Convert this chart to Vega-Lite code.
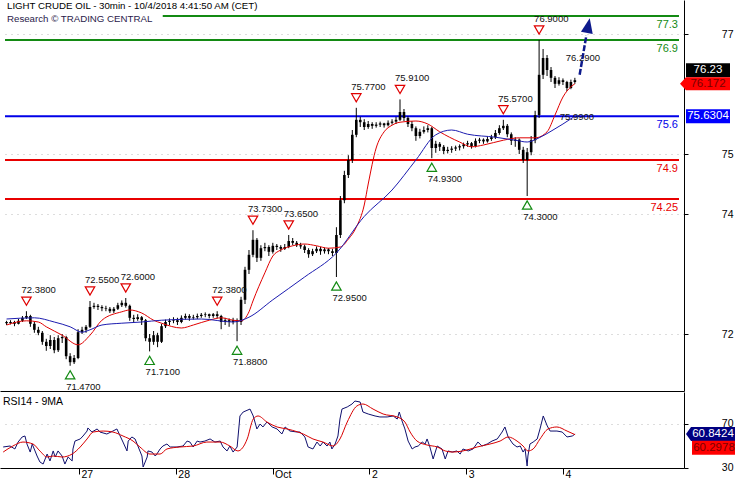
{
"$schema": "https://vega.github.io/schema/vega-lite/v6.json",
"padding": 0,
"background": "white",
"spacing": 0,
"config": {
  "view": {"stroke": null},
  "font": "Liberation Sans",
  "axis": {"labelFont": "Liberation Sans", "labelColor": "#000", "tickColor": "#000", "domainColor": "#000", "gridColor": "#bbbbbb", "gridDash": [1, 5], "labelFontSize": 10.5}
},
"datasets": {
  "levels": [
    {"kind": "resistance", "level": 77.3, "t1": 39.3, "t2": 169.2, "label": "77.3"},
    {"kind": "resistance", "level": 76.9, "t1": -0.39, "t2": 169.2, "label": "76.9"},
    {"kind": "pivot", "level": 75.6304, "t1": -0.39, "t2": 169.2, "label": "75.6"},
    {"kind": "support", "level": 74.9, "t1": -0.39, "t2": 169.2, "label": "74.9"},
    {"kind": "support", "level": 74.25, "t1": -0.39, "t2": 169.2, "label": "74.25"}
  ],
  "candles": [
    {"t":0,"o":72.2,"h":72.22,"l":72.15,"c":72.18},{"t":1,"o":72.18,"h":72.23,"l":72.16,"c":72.2},{"t":2,"o":72.2,"h":72.22,"l":72.13,"c":72.17},{"t":3,"o":72.17,"h":72.25,"l":72.16,"c":72.22},{"t":4,"o":72.22,"h":72.3,"l":72.2,"c":72.27},
    {"t":5,"o":72.27,"h":72.38,"l":72.25,"c":72.3},{"t":6,"o":72.3,"h":72.32,"l":72.12,"c":72.17},{"t":7,"o":72.17,"h":72.2,"l":72.02,"c":72.07},{"t":8,"o":72.07,"h":72.12,"l":71.98,"c":72.02},{"t":9,"o":72.02,"h":72.05,"l":71.82,"c":71.87},
    {"t":10,"o":71.87,"h":71.92,"l":71.72,"c":71.8},{"t":11,"o":71.8,"h":71.98,"l":71.75,"c":71.9},{"t":12,"o":71.9,"h":71.95,"l":71.68,"c":71.73},{"t":13,"o":71.73,"h":71.98,"l":71.7,"c":71.93},{"t":14,"o":71.93,"h":72.0,"l":71.85,"c":71.95},
    {"t":15,"o":71.95,"h":71.97,"l":71.58,"c":71.63},{"t":16,"o":71.63,"h":71.68,"l":71.47,"c":71.53},{"t":17,"o":71.53,"h":71.65,"l":71.5,"c":71.6},{"t":18,"o":71.6,"h":72.08,"l":71.58,"c":72.03},{"t":19,"o":72.03,"h":72.12,"l":72.0,"c":72.07},
    {"t":20,"o":72.07,"h":72.15,"l":72.02,"c":72.12},{"t":21,"o":72.12,"h":72.55,"l":72.1,"c":72.45},{"t":22,"o":72.45,"h":72.52,"l":72.42,"c":72.47},{"t":23,"o":72.47,"h":72.5,"l":72.4,"c":72.45},{"t":24,"o":72.45,"h":72.48,"l":72.38,"c":72.43},
    {"t":25,"o":72.43,"h":72.47,"l":72.38,"c":72.42},{"t":26,"o":72.42,"h":72.45,"l":72.35,"c":72.38},{"t":27,"o":72.38,"h":72.45,"l":72.35,"c":72.42},{"t":28,"o":72.42,"h":72.52,"l":72.4,"c":72.48},{"t":29,"o":72.48,"h":72.56,"l":72.45,"c":72.52},
    {"t":30,"o":72.52,"h":72.6,"l":72.44,"c":72.47},{"t":31,"o":72.47,"h":72.49,"l":72.22,"c":72.27},{"t":32,"o":72.27,"h":72.32,"l":72.2,"c":72.25},{"t":33,"o":72.25,"h":72.33,"l":72.22,"c":72.28},{"t":34,"o":72.28,"h":72.3,"l":72.15,"c":72.23},
    {"t":35,"o":72.23,"h":72.25,"l":71.88,"c":71.93},{"t":36,"o":71.93,"h":72.0,"l":71.71,"c":71.87},{"t":37,"o":71.87,"h":72.05,"l":71.82,"c":71.98},{"t":38,"o":71.98,"h":72.02,"l":71.78,"c":71.87},{"t":39,"o":71.87,"h":72.17,"l":71.85,"c":72.13},
    {"t":40,"o":72.13,"h":72.24,"l":72.1,"c":72.2},{"t":41,"o":72.2,"h":72.26,"l":72.15,"c":72.22},{"t":42,"o":72.22,"h":72.28,"l":72.18,"c":72.23},{"t":43,"o":72.23,"h":72.27,"l":72.15,"c":72.2},{"t":44,"o":72.2,"h":72.31,"l":72.18,"c":72.27},
    {"t":45,"o":72.27,"h":72.34,"l":72.24,"c":72.3},{"t":46,"o":72.3,"h":72.33,"l":72.22,"c":72.27},{"t":47,"o":72.27,"h":72.32,"l":72.24,"c":72.28},{"t":48,"o":72.28,"h":72.34,"l":72.25,"c":72.3},{"t":49,"o":72.3,"h":72.35,"l":72.27,"c":72.32},
    {"t":50,"o":72.32,"h":72.36,"l":72.28,"c":72.33},{"t":51,"o":72.33,"h":72.34,"l":72.26,"c":72.3},{"t":52,"o":72.3,"h":72.35,"l":72.27,"c":72.33},{"t":53,"o":72.33,"h":72.38,"l":72.26,"c":72.3},{"t":54,"o":72.3,"h":72.32,"l":72.08,"c":72.2},
    {"t":55,"o":72.2,"h":72.27,"l":72.15,"c":72.23},{"t":56,"o":72.23,"h":72.26,"l":72.12,"c":72.2},{"t":57,"o":72.2,"h":72.27,"l":72.16,"c":72.23},{"t":58,"o":72.23,"h":72.26,"l":71.88,"c":72.2},{"t":59,"o":72.2,"h":72.62,"l":72.15,"c":72.57},
    {"t":60,"o":72.57,"h":73.12,"l":72.5,"c":73.07},{"t":61,"o":73.07,"h":73.4,"l":73.0,"c":73.32},{"t":62,"o":73.32,"h":73.73,"l":73.28,"c":73.57},{"t":63,"o":73.57,"h":73.6,"l":73.2,"c":73.27},{"t":64,"o":73.27,"h":73.48,"l":73.22,"c":73.43},
    {"t":65,"o":73.43,"h":73.52,"l":73.38,"c":73.45},{"t":66,"o":73.45,"h":73.48,"l":73.3,"c":73.37},{"t":67,"o":73.37,"h":73.52,"l":73.34,"c":73.47},{"t":68,"o":73.47,"h":73.5,"l":73.4,"c":73.45},{"t":69,"o":73.45,"h":73.48,"l":73.37,"c":73.42},
    {"t":70,"o":73.42,"h":73.5,"l":73.4,"c":73.45},{"t":71,"o":73.45,"h":73.65,"l":73.43,"c":73.55},{"t":72,"o":73.55,"h":73.6,"l":73.48,"c":73.52},{"t":73,"o":73.52,"h":73.55,"l":73.45,"c":73.48},{"t":74,"o":73.48,"h":73.52,"l":73.42,"c":73.46},
    {"t":75,"o":73.46,"h":73.49,"l":73.35,"c":73.4},{"t":76,"o":73.4,"h":73.43,"l":73.27,"c":73.33},{"t":77,"o":73.33,"h":73.42,"l":73.3,"c":73.38},{"t":78,"o":73.38,"h":73.46,"l":73.35,"c":73.42},{"t":79,"o":73.42,"h":73.45,"l":73.32,"c":73.38},
    {"t":80,"o":73.38,"h":73.44,"l":73.34,"c":73.41},{"t":81,"o":73.41,"h":73.43,"l":73.33,"c":73.38},{"t":82,"o":73.38,"h":73.42,"l":73.3,"c":73.35},{"t":83,"o":73.35,"h":73.78,"l":72.95,"c":73.65},{"t":84,"o":73.65,"h":74.3,"l":73.6,"c":74.23},
    {"t":85,"o":74.23,"h":74.72,"l":74.18,"c":74.65},{"t":86,"o":74.65,"h":74.98,"l":74.6,"c":74.9},{"t":87,"o":74.9,"h":75.4,"l":74.85,"c":75.32},{"t":88,"o":75.32,"h":75.77,"l":75.28,"c":75.57},{"t":89,"o":75.57,"h":75.62,"l":75.45,"c":75.53},
    {"t":90,"o":75.53,"h":75.58,"l":75.4,"c":75.45},{"t":91,"o":75.45,"h":75.55,"l":75.42,"c":75.5},{"t":92,"o":75.5,"h":75.53,"l":75.42,"c":75.47},{"t":93,"o":75.47,"h":75.53,"l":75.44,"c":75.49},{"t":94,"o":75.49,"h":75.54,"l":75.45,"c":75.51},
    {"t":95,"o":75.51,"h":75.52,"l":75.44,"c":75.48},{"t":96,"o":75.48,"h":75.56,"l":75.46,"c":75.52},{"t":97,"o":75.52,"h":75.58,"l":75.49,"c":75.54},{"t":98,"o":75.54,"h":75.62,"l":75.5,"c":75.57},{"t":99,"o":75.57,"h":75.91,"l":75.55,"c":75.7},
    {"t":100,"o":75.7,"h":75.75,"l":75.55,"c":75.6},{"t":101,"o":75.6,"h":75.63,"l":75.45,"c":75.5},{"t":102,"o":75.5,"h":75.55,"l":75.38,"c":75.43},{"t":103,"o":75.43,"h":75.46,"l":75.22,"c":75.3},{"t":104,"o":75.3,"h":75.42,"l":75.26,"c":75.37},
    {"t":105,"o":75.37,"h":75.46,"l":75.34,"c":75.4},{"t":106,"o":75.4,"h":75.48,"l":75.36,"c":75.43},{"t":107,"o":75.43,"h":75.45,"l":74.93,"c":75.1},{"t":108,"o":75.1,"h":75.22,"l":75.02,"c":75.17},{"t":109,"o":75.17,"h":75.2,"l":75.05,"c":75.12},
    {"t":110,"o":75.12,"h":75.15,"l":75.0,"c":75.05},{"t":111,"o":75.05,"h":75.12,"l":75.01,"c":75.07},{"t":112,"o":75.07,"h":75.13,"l":75.02,"c":75.09},{"t":113,"o":75.09,"h":75.14,"l":75.05,"c":75.11},{"t":114,"o":75.11,"h":75.16,"l":75.06,"c":75.13},
    {"t":115,"o":75.13,"h":75.19,"l":75.09,"c":75.16},{"t":116,"o":75.16,"h":75.22,"l":75.12,"c":75.18},{"t":117,"o":75.18,"h":75.2,"l":75.09,"c":75.13},{"t":118,"o":75.13,"h":75.26,"l":75.11,"c":75.22},{"t":119,"o":75.22,"h":75.27,"l":75.18,"c":75.24},
    {"t":120,"o":75.24,"h":75.26,"l":75.17,"c":75.21},{"t":121,"o":75.21,"h":75.29,"l":75.19,"c":75.25},{"t":122,"o":75.25,"h":75.32,"l":75.22,"c":75.28},{"t":123,"o":75.28,"h":75.4,"l":75.25,"c":75.35},{"t":124,"o":75.35,"h":75.48,"l":75.32,"c":75.43},
    {"t":125,"o":75.43,"h":75.57,"l":75.4,"c":75.47},{"t":126,"o":75.47,"h":75.5,"l":75.28,"c":75.33},{"t":127,"o":75.33,"h":75.36,"l":75.15,"c":75.22},{"t":128,"o":75.22,"h":75.28,"l":75.12,"c":75.24},{"t":129,"o":75.24,"h":75.26,"l":75.0,"c":75.07},
    {"t":130,"o":75.07,"h":75.12,"l":74.85,"c":74.9},{"t":131,"o":74.9,"h":75.1,"l":74.3,"c":75.03},{"t":132,"o":75.03,"h":75.3,"l":74.98,"c":75.23},{"t":133,"o":75.23,"h":75.72,"l":75.18,"c":75.65},{"t":134,"o":75.65,"h":76.9,"l":75.6,"c":76.32},
    {"t":135,"o":76.32,"h":76.75,"l":76.25,"c":76.6},{"t":136,"o":76.6,"h":76.65,"l":76.3,"c":76.4},{"t":137,"o":76.4,"h":76.45,"l":76.2,"c":76.27},{"t":138,"o":76.27,"h":76.3,"l":76.1,"c":76.17},{"t":139,"o":76.17,"h":76.28,"l":76.14,"c":76.23},
    {"t":140,"o":76.23,"h":76.26,"l":76.15,"c":76.2},{"t":141,"o":76.2,"h":76.22,"l":76.05,"c":76.1},{"t":142,"o":76.1,"h":76.24,"l":76.08,"c":76.2},{"t":143,"o":76.2,"h":76.27,"l":76.17,"c":76.23}
  ],
  "ma": [
    {"s":"fast","t":0,"v":72.15},{"s":"fast","t":5,"v":72.22},{"s":"fast","t":8,"v":72.2},{"s":"fast","t":10,"v":72.12},{"s":"fast","t":14,"v":71.98},{"s":"fast","t":18,"v":71.82},{"s":"fast","t":21,"v":71.98},{"s":"fast","t":24,"v":72.23},{"s":"fast","t":29,"v":72.37},{"s":"fast","t":31,"v":72.4},{"s":"fast","t":34,"v":72.35},{"s":"fast","t":37,"v":72.23},{"s":"fast","t":39,"v":72.18},{"s":"fast","t":44,"v":72.1},{"s":"fast","t":47,"v":72.15},{"s":"fast","t":51,"v":72.23},{"s":"fast","t":54,"v":72.27},{"s":"fast","t":57,"v":72.23},{"s":"fast","t":59,"v":72.22},{"s":"fast","t":61,"v":72.37},{"s":"fast","t":62,"v":72.55},{"s":"fast","t":65,"v":73.02},{"s":"fast","t":67,"v":73.3},{"s":"fast","t":69,"v":73.4},{"s":"fast","t":72,"v":73.47},{"s":"fast","t":75,"v":73.5},{"s":"fast","t":78,"v":73.47},{"s":"fast","t":81,"v":73.43},{"s":"fast","t":84,"v":73.45},{"s":"fast","t":86,"v":73.58},{"s":"fast","t":88,"v":73.78},{"s":"fast","t":90,"v":74.15},{"s":"fast","t":91,"v":74.5},{"s":"fast","t":93,"v":75.1},{"s":"fast","t":95,"v":75.37},{"s":"fast","t":97,"v":75.48},{"s":"fast","t":99,"v":75.53},{"s":"fast","t":103,"v":75.55},{"s":"fast","t":106,"v":75.5},{"s":"fast","t":109,"v":75.37},{"s":"fast","t":114,"v":75.2},{"s":"fast","t":117,"v":75.12},{"s":"fast","t":120,"v":75.15},{"s":"fast","t":125,"v":75.23},{"s":"fast","t":129,"v":75.27},{"s":"fast","t":133,"v":75.27},{"s":"fast","t":136,"v":75.37},{"s":"fast","t":138,"v":75.65},{"s":"fast","t":140,"v":75.95},{"s":"fast","t":142,"v":76.12},{"s":"fast","t":143,"v":76.17},
    {"s":"slow","t":0,"v":72.25},{"s":"slow","t":7,"v":72.27},{"s":"slow","t":12,"v":72.2},{"s":"slow","t":16,"v":72.12},{"s":"slow","t":19,"v":72.03},{"s":"slow","t":21,"v":72.07},{"s":"slow","t":24,"v":72.15},{"s":"slow","t":29,"v":72.18},{"s":"slow","t":34,"v":72.2},{"s":"slow","t":39,"v":72.23},{"s":"slow","t":49,"v":72.25},{"s":"slow","t":57,"v":72.2},{"s":"slow","t":61,"v":72.28},{"s":"slow","t":67,"v":72.57},{"s":"slow","t":75,"v":72.95},{"s":"slow","t":83,"v":73.35},{"s":"slow","t":90,"v":73.96},{"s":"slow","t":97,"v":74.4},{"s":"slow","t":103,"v":74.9},{"s":"slow","t":108,"v":75.32},{"s":"slow","t":112,"v":75.4},{"s":"slow","t":116,"v":75.33},{"s":"slow","t":123,"v":75.28},{"s":"slow","t":128,"v":75.23},{"s":"slow","t":131,"v":75.2},{"s":"slow","t":134,"v":75.27},{"s":"slow","t":137,"v":75.38},{"s":"slow","t":140,"v":75.5},{"s":"slow","t":143,"v":75.63}
  ],
  "markers": [
    {"kind":"high","t":5,"p":72.38},{"kind":"high","t":21,"p":72.55},{"kind":"high","t":30,"p":72.6},{"kind":"high","t":53,"p":72.38},{"kind":"high","t":62,"p":73.73},{"kind":"high","t":71,"p":73.65},{"kind":"high","t":88,"p":75.77},{"kind":"high","t":99,"p":75.91},{"kind":"high","t":125,"p":75.57},{"kind":"high","t":134,"p":76.9},
    {"kind":"low","t":16,"p":71.47},{"kind":"low","t":36,"p":71.71},{"kind":"low","t":58,"p":71.88},{"kind":"low","t":83,"p":72.95},{"kind":"low","t":107,"p":74.93},{"kind":"low","t":131,"p":74.3}
  ],
  "notes": [{"t":140.7,"p":76.6,"label":"76.2900"},{"t":139.2,"p":75.61,"label":"75.9900"}],
  "arrow": [{"t":144.2,"p":76.32},{"t":145.9,"p":76.98}],
  "arrowhead": [{"t":146.3,"p":77.117}],
  "titles": [{"line":1,"text":"LIGHT CRUDE OIL - 30min - 10/4/2018 4:41:50 AM (CET)"},{"line":2,"text":"Research © TRADING CENTRAL"}],
  "boxes": [
    {"panel":"price","kind":"last","v":76.23,"label":"76.23"},
    {"panel":"price","kind":"ma","v":76.172,"label":"76.172"},
    {"panel":"price","kind":"pivot","v":75.6304,"label":"75.6304"},
    {"panel":"rsi","kind":"rsi","v":60.8424,"label":"60.8424"},
    {"panel":"rsi","kind":"ma","v":60.2978,"label":"60.2978"}
  ],
  "rsi": [
    {"t":0.4,"v":49.1},{"t":2.1,"v":50.0},{"t":3.3,"v":47.3},{"t":4.1,"v":53.6},{"t":5.1,"v":58.2},{"t":5.8,"v":59.1},{"t":6.3,"v":51.8},{"t":7.1,"v":44.5},{"t":7.6,"v":51.8},{"t":8.8,"v":40.9},{"t":9.5,"v":35.5},{"t":10.3,"v":33.6},{"t":11.3,"v":42.7},{"t":12.0,"v":36.4},{"t":12.8,"v":45.5},{"t":13.3,"v":40.0},{"t":14.0,"v":45.5},{"t":15.0,"v":40.9},{"t":15.7,"v":33.6},{"t":16.5,"v":40.0},{"t":17.5,"v":36.4},{"t":17.7,"v":47.3},{"t":18.2,"v":54.5},{"t":19.5,"v":56.4},{"t":20.2,"v":59.1},{"t":21.2,"v":63.6},{"t":21.4,"v":66.4},{"t":22.4,"v":62.7},{"t":23.7,"v":65.5},{"t":24.4,"v":62.7},{"t":26.1,"v":60.9},{"t":27.6,"v":63.6},{"t":28.6,"v":65.5},{"t":29.4,"v":59.1},{"t":30.1,"v":53.6},{"t":31.1,"v":45.5},{"t":31.4,"v":54.5},{"t":32.3,"v":58.2},{"t":33.1,"v":56.4},{"t":33.8,"v":50.0},{"t":34.8,"v":40.9},{"t":35.1,"v":30.9},{"t":36.1,"v":40.0},{"t":36.3,"v":45.5},{"t":37.3,"v":44.5},{"t":38.1,"v":40.9},{"t":38.5,"v":42.7},{"t":39.3,"v":47.3},{"t":40.0,"v":50.0},{"t":41.0,"v":51.8},{"t":41.8,"v":49.1},{"t":43.5,"v":49.1},{"t":45.0,"v":50.0},{"t":46.0,"v":54.5},{"t":46.7,"v":53.6},{"t":47.5,"v":49.1},{"t":48.5,"v":54.5},{"t":49.2,"v":53.6},{"t":50.4,"v":54.5},{"t":51.7,"v":56.4},{"t":52.9,"v":53.6},{"t":54.2,"v":54.5},{"t":54.9,"v":49.1},{"t":55.9,"v":45.5},{"t":56.6,"v":50.0},{"t":57.4,"v":44.5},{"t":58.4,"v":49.1},{"t":59.1,"v":77.3},{"t":59.9,"v":80.9},{"t":61.6,"v":83.6},{"t":62.4,"v":77.3},{"t":63.3,"v":65.5},{"t":64.1,"v":70.0},{"t":64.8,"v":67.3},{"t":65.8,"v":71.8},{"t":67.1,"v":67.3},{"t":68.3,"v":65.5},{"t":69.5,"v":60.9},{"t":70.3,"v":67.3},{"t":71.5,"v":63.6},{"t":73.3,"v":62.7},{"t":74.0,"v":62.7},{"t":75.2,"v":58.2},{"t":76.0,"v":49.1},{"t":77.2,"v":47.3},{"t":78.2,"v":53.6},{"t":79.0,"v":50.0},{"t":79.7,"v":53.6},{"t":80.7,"v":50.0},{"t":81.4,"v":53.6},{"t":81.9,"v":47.3},{"t":82.7,"v":51.8},{"t":83.4,"v":59.1},{"t":83.9,"v":74.5},{"t":84.4,"v":83.6},{"t":85.7,"v":85.5},{"t":86.9,"v":88.2},{"t":87.6,"v":90.9},{"t":88.9,"v":90.0},{"t":89.6,"v":80.9},{"t":90.9,"v":79.1},{"t":92.6,"v":77.3},{"t":93.8,"v":76.4},{"t":95.6,"v":76.4},{"t":97.1,"v":77.3},{"t":98.1,"v":74.5},{"t":98.6,"v":80.9},{"t":99.3,"v":72.7},{"t":100.0,"v":65.5},{"t":100.8,"v":54.5},{"t":101.8,"v":47.3},{"t":102.5,"v":49.1},{"t":103.3,"v":50.0},{"t":104.3,"v":53.6},{"t":105.0,"v":51.8},{"t":105.5,"v":56.4},{"t":106.2,"v":49.1},{"t":107.0,"v":38.2},{"t":108.0,"v":50.0},{"t":109.2,"v":47.3},{"t":110.0,"v":38.2},{"t":110.7,"v":45.5},{"t":111.7,"v":44.5},{"t":112.9,"v":45.5},{"t":113.7,"v":42.7},{"t":114.4,"v":47.3},{"t":115.7,"v":45.5},{"t":116.9,"v":47.3},{"t":118.1,"v":53.6},{"t":119.1,"v":50.0},{"t":120.4,"v":51.8},{"t":121.6,"v":54.5},{"t":122.9,"v":56.4},{"t":124.1,"v":62.7},{"t":124.8,"v":67.3},{"t":125.6,"v":58.2},{"t":126.8,"v":51.8},{"t":127.8,"v":49.1},{"t":128.6,"v":50.0},{"t":129.3,"v":44.5},{"t":129.8,"v":47.3},{"t":130.3,"v":31.8},{"t":130.5,"v":40.9},{"t":131.0,"v":51.8},{"t":131.8,"v":53.6},{"t":132.8,"v":56.4},{"t":133.5,"v":65.5},{"t":134.3,"v":77.3},{"t":135.3,"v":68.2},{"t":136.0,"v":63.6},{"t":137.7,"v":63.6},{"t":139.0,"v":62.7},{"t":140.2,"v":58.2},{"t":141.5,"v":59.1},{"t":142.2,"v":60.84}
  ],
  "rsima": [
    {"t":0.4,"v":44.5},{"t":2.8,"v":50.0},{"t":5.3,"v":53.6},{"t":7.8,"v":51.8},{"t":9.5,"v":45.5},{"t":11.3,"v":40.0},{"t":12.8,"v":40.9},{"t":15.0,"v":40.0},{"t":17.5,"v":42.7},{"t":19.5,"v":49.1},{"t":21.2,"v":56.4},{"t":22.7,"v":62.7},{"t":25.2,"v":63.6},{"t":27.6,"v":62.7},{"t":30.1,"v":59.1},{"t":32.6,"v":54.5},{"t":34.3,"v":49.1},{"t":36.8,"v":42.7},{"t":39.3,"v":42.7},{"t":41.0,"v":47.3},{"t":44.2,"v":49.1},{"t":47.5,"v":50.0},{"t":50.9,"v":53.6},{"t":54.2,"v":53.6},{"t":56.6,"v":50.0},{"t":58.6,"v":45.5},{"t":60.9,"v":56.4},{"t":62.4,"v":74.5},{"t":63.6,"v":77.3},{"t":65.8,"v":71.8},{"t":68.3,"v":67.3},{"t":70.8,"v":65.5},{"t":73.5,"v":62.7},{"t":74.8,"v":60.9},{"t":77.2,"v":56.4},{"t":79.7,"v":53.6},{"t":82.2,"v":50.0},{"t":83.9,"v":56.4},{"t":85.7,"v":71.8},{"t":88.1,"v":86.4},{"t":89.6,"v":88.2},{"t":92.1,"v":83.6},{"t":94.6,"v":79.1},{"t":98.1,"v":76.4},{"t":100.0,"v":71.8},{"t":101.3,"v":62.7},{"t":103.0,"v":54.5},{"t":105.5,"v":50.9},{"t":108.0,"v":49.1},{"t":110.0,"v":45.5},{"t":111.9,"v":44.5},{"t":114.4,"v":45.5},{"t":117.9,"v":49.1},{"t":121.1,"v":51.8},{"t":123.6,"v":54.5},{"t":125.6,"v":58.2},{"t":127.8,"v":54.5},{"t":129.3,"v":50.0},{"t":130.5,"v":45.5},{"t":131.8,"v":47.3},{"t":133.5,"v":56.4},{"t":135.5,"v":65.5},{"t":137.7,"v":67.3},{"t":140.2,"v":63.6},{"t":142.2,"v":60.3}
  ]
},
"vconcat": [
  {
    "width": 684,
    "height": 391,
    "layer": [
      {"data": {"name": "levels"}, "mark": {"type": "rule", "strokeWidth": 2},
       "encoding": {
         "x": {"field": "t1", "type": "quantitative", "scale": {"domain": [-0.39, 169.2], "nice": false, "zero": false},
               "axis": {"orient": "bottom", "labels": false, "ticks": false, "grid": false, "domain": true, "title": null, "minExtent": 0, "maxExtent": 0}},
         "x2": {"field": "t2"},
         "y": {"field": "level", "type": "quantitative", "scale": {"domain": [71.05, 77.567], "nice": false, "zero": false},
               "axis": {"orient": "right", "values": [72, 74, 75, 77], "format": "d", "title": null, "tickSize": 4, "labelAlign": "right", "labelPadding": 45, "grid": true, "domain": true}},
         "color": {"field": "kind", "type": "nominal", "scale": {"domain": ["resistance", "pivot", "support"], "range": ["#138a13", "#0000e8", "#e80000"]}, "legend": null}
       }},
      {"data": {"name": "candles"}, "mark": {"type": "rule", "color": "#000", "strokeWidth": 1},
       "encoding": {"x": {"field": "t", "type": "quantitative"}, "y": {"field": "l", "type": "quantitative"}, "y2": {"field": "h"}}},
      {"data": {"name": "candles"}, "mark": {"type": "bar", "color": "#000", "width": 2.6},
       "encoding": {"x": {"field": "t", "type": "quantitative"}, "y": {"field": "o", "type": "quantitative"}, "y2": {"field": "c"}}},
      {"data": {"name": "ma"}, "transform": [{"filter": "datum.s == 'fast'"}], "mark": {"type": "line", "color": "#e00000", "strokeWidth": 1, "interpolate": "monotone"},
       "encoding": {"x": {"field": "t", "type": "quantitative"}, "y": {"field": "v", "type": "quantitative"}}},
      {"data": {"name": "ma"}, "transform": [{"filter": "datum.s == 'slow'"}], "mark": {"type": "line", "color": "#1c1cb0", "strokeWidth": 1, "interpolate": "monotone"},
       "encoding": {"x": {"field": "t", "type": "quantitative"}, "y": {"field": "v", "type": "quantitative"}}},
      {"data": {"name": "levels"}, "mark": {"type": "text", "align": "right", "baseline": "middle", "dx": -1, "dy": 9, "fontSize": 11},
       "encoding": {"x": {"field": "t2", "type": "quantitative"}, "y": {"field": "level", "type": "quantitative"}, "text": {"field": "label"},
                    "color": {"field": "kind", "type": "nominal", "legend": null}}},
      {"data": {"name": "markers"}, "transform": [{"filter": "datum.kind == 'high'"}],
       "mark": {"type": "point", "shape": "triangle-down", "filled": false, "color": "#e00000", "size": 90, "strokeWidth": 1.2, "opacity": 1, "yOffset": -10},
       "encoding": {"x": {"field": "t", "type": "quantitative"}, "y": {"field": "p", "type": "quantitative"}}},
      {"data": {"name": "markers"}, "transform": [{"filter": "datum.kind == 'high'"}],
       "mark": {"type": "text", "align": "left", "baseline": "middle", "dx": -5, "yOffset": -21, "fontSize": 9.5, "color": "#111"},
       "encoding": {"x": {"field": "t", "type": "quantitative"}, "y": {"field": "p", "type": "quantitative"}, "text": {"field": "p", "type": "quantitative", "format": ".4f"}}},
      {"data": {"name": "markers"}, "transform": [{"filter": "datum.kind == 'low'"}],
       "mark": {"type": "point", "shape": "triangle-up", "filled": false, "color": "#138a13", "size": 90, "strokeWidth": 1.2, "opacity": 1, "yOffset": 9},
       "encoding": {"x": {"field": "t", "type": "quantitative"}, "y": {"field": "p", "type": "quantitative"}}},
      {"data": {"name": "markers"}, "transform": [{"filter": "datum.kind == 'low'"}],
       "mark": {"type": "text", "align": "left", "baseline": "middle", "dx": -4, "yOffset": 21, "fontSize": 9.5, "color": "#111"},
       "encoding": {"x": {"field": "t", "type": "quantitative"}, "y": {"field": "p", "type": "quantitative"}, "text": {"field": "p", "type": "quantitative", "format": ".4f"}}},
      {"data": {"name": "notes"}, "mark": {"type": "text", "align": "left", "baseline": "middle", "fontSize": 9.5, "color": "#111"},
       "encoding": {"x": {"field": "t", "type": "quantitative"}, "y": {"field": "p", "type": "quantitative"}, "text": {"field": "label"}}},
      {"data": {"name": "arrow"}, "mark": {"type": "line", "color": "#0d1a8c", "strokeWidth": 2.5, "strokeDash": [6, 2]},
       "encoding": {"x": {"field": "t", "type": "quantitative"}, "y": {"field": "p", "type": "quantitative"}}},
      {"data": {"name": "arrowhead"}, "mark": {"type": "point", "shape": "M0,-1.5L1,1L-1,1Z", "filled": true, "color": "#0d1a8c", "size": 144, "angle": 11, "opacity": 1},
       "encoding": {"x": {"field": "t", "type": "quantitative"}, "y": {"field": "p", "type": "quantitative"}}},
      {"data": {"name": "titles"}, "transform": [{"filter": "datum.line == 1"}],
       "mark": {"type": "text", "align": "left", "baseline": "middle", "dx": 2, "yOffset": 6, "fontSize": 9.7, "color": "#000"},
       "encoding": {"x": {"datum": -0.39, "type": "quantitative"}, "y": {"datum": 77.567, "type": "quantitative"}, "text": {"field": "text"}}},
      {"data": {"name": "titles"}, "transform": [{"filter": "datum.line == 2"}],
       "mark": {"type": "text", "align": "left", "baseline": "middle", "dx": 2, "yOffset": 19, "fontSize": 9.7, "color": "#2a1a4a"},
       "encoding": {"x": {"datum": -0.39, "type": "quantitative"}, "y": {"datum": 77.567, "type": "quantitative"}, "text": {"field": "text"}}},
      {"data": {"name": "boxes"}, "transform": [{"filter": "datum.panel == 'price' && datum.kind == 'last'"}],
       "mark": {"type": "point", "shape": "M1.4,-1.4H10.2V1.4H1.4Z", "filled": true, "color": "#000", "size": 100, "opacity": 1, "yOffset": -10},
       "encoding": {"x": {"datum": 169.2, "type": "quantitative"}, "y": {"field": "v", "type": "quantitative"}}},
      {"data": {"name": "boxes"}, "transform": [{"filter": "datum.panel == 'price' && datum.kind == 'last'"}],
       "mark": {"type": "text", "align": "center", "baseline": "middle", "dx": 29, "yOffset": -10, "fontSize": 11.5, "color": "#fff"},
       "encoding": {"x": {"datum": 169.2, "type": "quantitative"}, "y": {"field": "v", "type": "quantitative"}, "text": {"field": "label"}}},
      {"data": {"name": "boxes"}, "transform": [{"filter": "datum.panel == 'price' && datum.kind == 'ma'"}],
       "mark": {"type": "point", "shape": "M0.2,0L1.4,-1.3H10.2V1.3H1.4Z", "filled": true, "color": "#ff0000", "size": 100, "opacity": 1},
       "encoding": {"x": {"datum": 169.2, "type": "quantitative"}, "y": {"field": "v", "type": "quantitative"}}},
      {"data": {"name": "boxes"}, "transform": [{"filter": "datum.panel == 'price' && datum.kind == 'ma'"}],
       "mark": {"type": "text", "align": "center", "baseline": "middle", "dx": 29, "fontSize": 11.5, "color": "#7a0000"},
       "encoding": {"x": {"datum": 169.2, "type": "quantitative"}, "y": {"field": "v", "type": "quantitative"}, "text": {"field": "label"}}},
      {"data": {"name": "boxes"}, "transform": [{"filter": "datum.panel == 'price' && datum.kind == 'pivot'"}],
       "mark": {"type": "point", "shape": "M1.4,-1.4H10.2V1.4H1.4Z", "filled": true, "color": "#0000ff", "size": 100, "opacity": 1},
       "encoding": {"x": {"datum": 169.2, "type": "quantitative"}, "y": {"field": "v", "type": "quantitative"}}},
      {"data": {"name": "boxes"}, "transform": [{"filter": "datum.panel == 'price' && datum.kind == 'pivot'"}],
       "mark": {"type": "text", "align": "center", "baseline": "middle", "dx": 29, "fontSize": 11.5, "color": "#fff"},
       "encoding": {"x": {"datum": 169.2, "type": "quantitative"}, "y": {"field": "v", "type": "quantitative"}, "text": {"field": "label"}}}
    ]
  },
  {
    "width": 684,
    "height": 76,
    "layer": [
      {"data": {"name": "rsi"}, "mark": {"type": "line", "color": "#10106e", "strokeWidth": 1},
       "encoding": {
         "x": {"field": "t", "type": "quantitative", "scale": {"domain": [-0.39, 169.2], "nice": false, "zero": false},
               "axis": {"orient": "bottom", "values": [19.2, 43.2, 67.2, 91.2, 115.2, 139.2], "labelExpr": "['27','28','Oct','2','3','4'][round((datum.value-19.2)/24)]", "title": null, "tickSize": 6, "labelAlign": "left", "labelBaseline": "top", "labelPadding": -5, "labelOffset": 2, "grid": false, "domain": true, "labelFontSize": 10.5, "labelFlush": false, "labelOverlap": false}},
         "y": {"field": "v", "type": "quantitative", "scale": {"domain": [30, 99.1], "nice": false, "zero": false},
               "axis": {"orient": "right", "values": [30, 50, 70], "labelExpr": "datum.value == 50 ? '' : datum.label", "title": null, "tickSize": 4, "labelAlign": "right", "labelPadding": 45, "labelBaseline": "bottom", "labelOffset": 4, "grid": true, "domain": true}}
       }},
      {"data": {"name": "rsima"}, "mark": {"type": "line", "color": "#d80000", "strokeWidth": 1, "interpolate": "monotone"},
       "encoding": {"x": {"field": "t", "type": "quantitative"}, "y": {"field": "v", "type": "quantitative"}}},
      {"data": {"values": [{"label": "RSI14 - 9MA"}]}, "mark": {"type": "text", "align": "left", "baseline": "middle", "dx": 3, "yOffset": 10, "fontSize": 10.5, "color": "#000"},
       "encoding": {"x": {"datum": -0.39, "type": "quantitative"}, "y": {"datum": 99.1, "type": "quantitative"}, "text": {"field": "label"}}},
      {"data": {"name": "boxes"}, "transform": [{"filter": "datum.panel == 'rsi' && datum.kind == 'rsi'"}],
       "mark": {"type": "point", "shape": "M0.4,0L1.4,-1.4H10.2V1.4H1.4Z", "filled": true, "color": "#000080", "size": 100, "opacity": 1},
       "encoding": {"x": {"datum": 169.2, "type": "quantitative"}, "y": {"field": "v", "type": "quantitative"}}},
      {"data": {"name": "boxes"}, "transform": [{"filter": "datum.panel == 'rsi' && datum.kind == 'rsi'"}],
       "mark": {"type": "text", "align": "center", "baseline": "middle", "dx": 29, "fontSize": 11.5, "color": "#fff"},
       "encoding": {"x": {"datum": 169.2, "type": "quantitative"}, "y": {"field": "v", "type": "quantitative"}, "text": {"field": "label"}}},
      {"data": {"name": "boxes"}, "transform": [{"filter": "datum.panel == 'rsi' && datum.kind == 'ma'"}],
       "mark": {"type": "point", "shape": "M1.6,-1.4H10.2V1.4H1.6Z", "filled": true, "color": "#ff0000", "size": 100, "opacity": 1, "yOffset": 13},
       "encoding": {"x": {"datum": 169.2, "type": "quantitative"}, "y": {"field": "v", "type": "quantitative"}}},
      {"data": {"name": "boxes"}, "transform": [{"filter": "datum.panel == 'rsi' && datum.kind == 'ma'"}],
       "mark": {"type": "text", "align": "center", "baseline": "middle", "dx": 30, "yOffset": 13, "fontSize": 11.5, "color": "#7a0000"},
       "encoding": {"x": {"datum": 169.2, "type": "quantitative"}, "y": {"field": "v", "type": "quantitative"}, "text": {"field": "label"}}}
    ]
  }
]
}
